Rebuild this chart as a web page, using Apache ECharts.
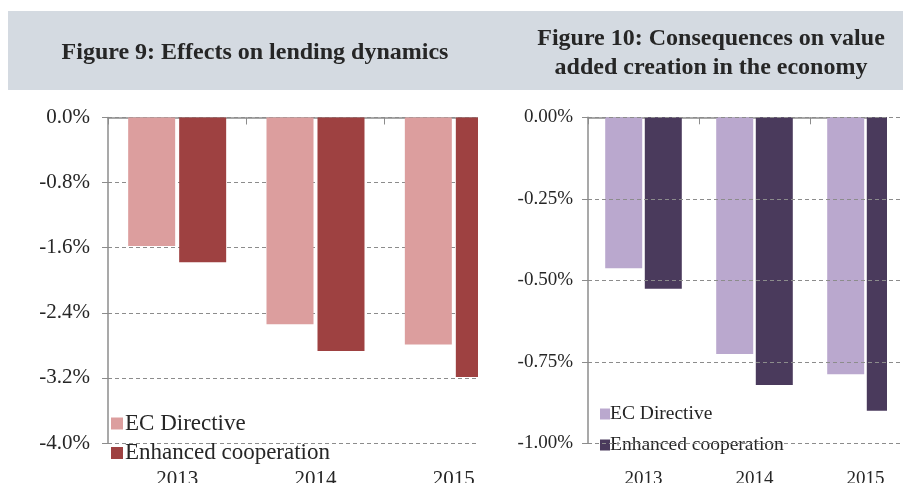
<!DOCTYPE html>
<html>
<head>
<meta charset="utf-8">
<script src="https://cdn.jsdelivr.net/npm/echarts@6/dist/echarts.min.js"></script>
<style>
html,body{margin:0;padding:0;background:#fff;}
#chart{width:903px;height:483px;}
</style>
</head>
<body>
<div id="chart"></div>
<script>
// Data
const years = ['2013', '2014', '2015'];
const seriesNames = ['EC Directive', 'Enhanced cooperation'];
const lendingEC = [-1.58, -2.54, -2.79];
const lendingEnhanced = [-1.78, -2.87, -3.19];
const valueEC = [-0.463, -0.726, -0.788];
const valueEnhanced = [-0.526, -0.821, -0.90];
const title9 = 'Figure 9: Effects on lending dynamics';
const title10 = 'Figure 10: Consequences on value\nadded creation in the economy';

const FONT = '"Liberation Serif", "Times New Roman", serif';
const TXT = '#262626';
const AX = '#8c8c8c';
const c9 = ['#dc9e9e', '#9e4141'];
const c10 = ['#baa8ce', '#4a3a5c'];

const chart = echarts.init(document.getElementById('chart'));

function yAxis(gi, min, interval, dec, fs, margin, z) {
  return {
    type: 'value', gridIndex: gi, min: min, max: 0, interval: interval, z: z,
    axisLine: {show: true, lineStyle: {color: AX, width: 1.5}},
    axisTick: {show: true, length: 6, lineStyle: {color: AX}},
    splitLine: {show: true, lineStyle: {color: AX, type: [4, 3], width: 1}},
    axisLabel: {
      color: TXT, fontFamily: FONT, fontSize: fs, margin: margin,
      formatter: v => v.toFixed(dec) + '%'
    }
  };
}
function xTop(gi) {
  return {
    type: 'category', gridIndex: gi, data: years, position: 'top',
    axisLine: {show: true, lineStyle: {color: AX, width: 1.5}},
    axisTick: {show: true, inside: true, length: 7, lineStyle: {color: AX}},
    axisLabel: {show: false}, splitLine: {show: false}
  };
}
function xBottom(gi, fs, margin) {
  return {
    type: 'category', gridIndex: gi, data: years, position: 'bottom',
    axisLine: {show: false}, axisTick: {show: false},
    axisLabel: {show: true, color: TXT, fontFamily: FONT, fontSize: fs, margin: margin},
    splitLine: {show: false}
  };
}

const option = {
  animation: false,
  backgroundColor: '#ffffff',
  title: [
    {text: title9, left: 250, top: 36, textAlign: 'center',
     textStyle: {fontFamily: FONT, fontWeight: 'bold', fontSize: 24, color: TXT}},
    {text: title10, left: 706, top: 19, textAlign: 'center',
     textStyle: {fontFamily: FONT, fontWeight: 'bold', fontSize: 24, lineHeight: 29, color: TXT}}
  ],
  grid: [
    {left: 108, top: 117.5, width: 415, height: 325.5, outerBoundsMode: 'none'},
    {left: 588, top: 117.3, width: 333, height: 326, outerBoundsMode: 'none'}
  ],
  xAxis: [xTop(0), xBottom(0, 21, 26), xTop(1), xBottom(1, 19, 26)],
  yAxis: [yAxis(0, -4, 0.8, 1, 21, 18, 0), yAxis(1, -1, 0.25, 2, 19, 15, 10)],
  legend: [
    {orient: 'vertical', left: 106, top: 407, itemWidth: 12, itemHeight: 12, itemGap: 6.5,
     icon: 'rect', selectedMode: false,
     textStyle: {fontFamily: FONT, fontSize: 23, lineHeight: 22, color: TXT, padding: [0, 0, 0, -3]},
     data: [{name: seriesNames[0], itemStyle: {color: c9[0]}},
            {name: seriesNames[1], itemStyle: {color: c9[1]}}]},
    {orient: 'vertical', left: 595, top: 399, itemWidth: 10, itemHeight: 11, itemGap: 11,
     icon: 'rect', selectedMode: false,
     textStyle: {fontFamily: FONT, fontSize: 19.5, lineHeight: 18, color: TXT, padding: [0, 0, 0, -5]},
     data: [{name: seriesNames[0], itemStyle: {color: c10[0]}},
            {name: seriesNames[1], itemStyle: {color: c10[1]}}]}
  ],
  graphic: [
    {type: 'rect', z: -10, shape: {x: 8, y: 11, width: 895, height: 79}, style: {fill: '#d4dae1'}},
    {type: 'rect', z: 5, shape: {x: 478, y: 95, width: 46, height: 388}, style: {fill: '#ffffff'}},
    {type: 'rect', z: 5, shape: {x: 887, y: 95, width: 16, height: 388}, style: {fill: '#ffffff'}}
  ],
  series: [
    {name: seriesNames[0], type: 'bar', xAxisIndex: 0, yAxisIndex: 0, data: lendingEC,
     barWidth: 47, barGap: '8.5%', itemStyle: {color: c9[0]}},
    {name: seriesNames[1], type: 'bar', xAxisIndex: 0, yAxisIndex: 0, data: lendingEnhanced,
     barWidth: 47, barGap: '8.5%', itemStyle: {color: c9[1]}},
    {name: seriesNames[0], type: 'bar', xAxisIndex: 2, yAxisIndex: 1, data: valueEC,
     barWidth: 37, barGap: '7%', itemStyle: {color: c10[0]}},
    {name: seriesNames[1], type: 'bar', xAxisIndex: 2, yAxisIndex: 1, data: valueEnhanced,
     barWidth: 37, barGap: '7%', itemStyle: {color: c10[1]}}
  ]
};
chart.setOption(option);
</script>
</body>
</html>
